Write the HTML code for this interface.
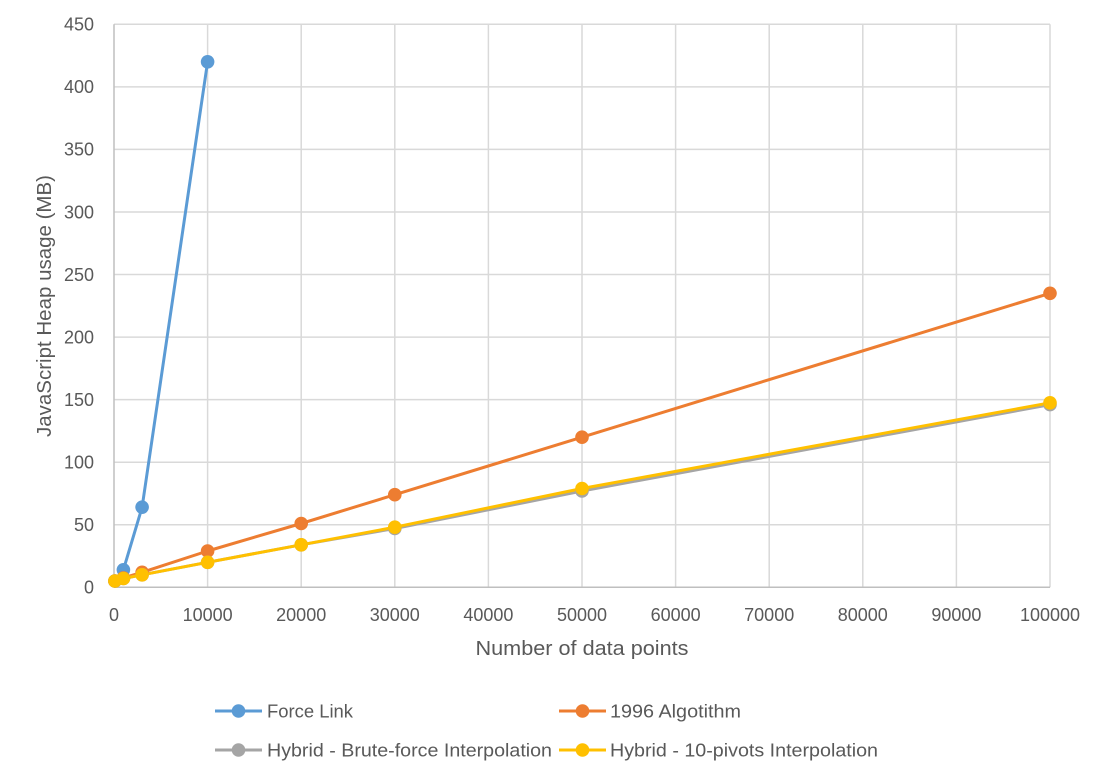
<!DOCTYPE html>
<html>
<head>
<meta charset="utf-8">
<style>
html,body{margin:0;padding:0;background:#fff;}
svg{display:block;}
text{font-family:"Liberation Sans",sans-serif;fill:#595959;}
</style>
</head>
<body>
<svg width="1107" height="780" viewBox="0 0 1107 780" xmlns="http://www.w3.org/2000/svg">
<rect width="1107" height="780" fill="#fff"/>
<!-- gridlines -->
<g stroke="#d9d9d9" stroke-width="1.5">
<line x1="114" y1="524.7" x2="1050" y2="524.7"/>
<line x1="114" y1="462.2" x2="1050" y2="462.2"/>
<line x1="114" y1="399.6" x2="1050" y2="399.6"/>
<line x1="114" y1="337.1" x2="1050" y2="337.1"/>
<line x1="114" y1="274.5" x2="1050" y2="274.5"/>
<line x1="114" y1="212.0" x2="1050" y2="212.0"/>
<line x1="114" y1="149.4" x2="1050" y2="149.4"/>
<line x1="114" y1="86.9" x2="1050" y2="86.9"/>
<line x1="114" y1="24.3" x2="1050" y2="24.3"/>
<line x1="207.6" y1="24.3" x2="207.6" y2="587.3"/>
<line x1="301.2" y1="24.3" x2="301.2" y2="587.3"/>
<line x1="394.8" y1="24.3" x2="394.8" y2="587.3"/>
<line x1="488.4" y1="24.3" x2="488.4" y2="587.3"/>
<line x1="582" y1="24.3" x2="582" y2="587.3"/>
<line x1="675.6" y1="24.3" x2="675.6" y2="587.3"/>
<line x1="769.2" y1="24.3" x2="769.2" y2="587.3"/>
<line x1="862.8" y1="24.3" x2="862.8" y2="587.3"/>
<line x1="956.4" y1="24.3" x2="956.4" y2="587.3"/>
<line x1="1050" y1="24.3" x2="1050" y2="587.3"/>
</g>
<g stroke="#bfbfbf" stroke-width="1.5">
<line x1="114" y1="24.3" x2="114" y2="587.3"/>
<line x1="114" y1="587.3" x2="1050" y2="587.3"/>
</g>
<!-- y tick labels -->
<g font-size="18" text-anchor="end">
<text x="94" y="593.5">0</text>
<text x="94" y="531">50</text>
<text x="94" y="468.5">100</text>
<text x="94" y="406">150</text>
<text x="94" y="343.5">200</text>
<text x="94" y="281">250</text>
<text x="94" y="218.5">300</text>
<text x="94" y="155.5">350</text>
<text x="94" y="93">400</text>
<text x="94" y="30.5">450</text>
</g>
<!-- x tick labels -->
<g font-size="18" text-anchor="middle">
<text x="114" y="621">0</text>
<text x="207.6" y="621">10000</text>
<text x="301.2" y="621">20000</text>
<text x="394.8" y="621">30000</text>
<text x="488.4" y="621">40000</text>
<text x="582" y="621">50000</text>
<text x="675.6" y="621">60000</text>
<text x="769.2" y="621">70000</text>
<text x="862.8" y="621">80000</text>
<text x="956.4" y="621">90000</text>
<text x="1050" y="621">100000</text>
</g>
<!-- axis titles -->
<text x="582" y="655" font-size="20" text-anchor="middle" textLength="213" lengthAdjust="spacingAndGlyphs">Number of data points</text>
<text transform="translate(51,306) rotate(-90)" font-size="20" text-anchor="middle" textLength="262" lengthAdjust="spacingAndGlyphs">JavaScript Heap usage (MB)</text>

<!-- series -->
<g fill="none" stroke-width="3" stroke-linejoin="round">
<polyline stroke="#5b9bd5" points="114.9,581.0 123.4,569.8 142.1,507.2 207.6,61.8"/>
<polyline stroke="#ed7d31" points="114.9,581.0 123.4,577.9 142.1,572.3 207.6,551.0 301.2,523.5 394.8,494.7 582,437.2 1050,293.3"/>
<polyline stroke="#a5a5a5" points="114.9,581.0 123.4,578.5 142.1,574.8 207.6,562.3 301.2,544.8 394.8,528.5 582,491.0 1050,404.6"/>
<polyline stroke="#ffc000" points="114.9,581.0 123.4,578.5 142.1,574.8 207.6,562.3 301.2,544.8 394.8,527.2 582,488.5 1050,402.8"/>
</g>
<g fill="#5b9bd5">
<circle cx="114.9" cy="581.0" r="6.8"/><circle cx="123.4" cy="569.8" r="6.8"/><circle cx="142.1" cy="507.2" r="6.8"/><circle cx="207.6" cy="61.8" r="6.8"/>
</g>
<g fill="#ed7d31">
<circle cx="114.9" cy="581.0" r="6.8"/><circle cx="123.4" cy="577.9" r="6.8"/><circle cx="142.1" cy="572.3" r="6.8"/><circle cx="207.6" cy="551.0" r="6.8"/><circle cx="301.2" cy="523.5" r="6.8"/><circle cx="394.8" cy="494.7" r="6.8"/><circle cx="582" cy="437.2" r="6.8"/><circle cx="1050" cy="293.3" r="6.8"/>
</g>
<g fill="#a5a5a5">
<circle cx="114.9" cy="581.0" r="6.8"/><circle cx="123.4" cy="578.5" r="6.8"/><circle cx="142.1" cy="574.8" r="6.8"/><circle cx="207.6" cy="562.3" r="6.8"/><circle cx="301.2" cy="544.8" r="6.8"/><circle cx="394.8" cy="528.5" r="6.8"/><circle cx="582" cy="491.0" r="6.8"/><circle cx="1050" cy="404.6" r="6.8"/>
</g>
<g fill="#ffc000">
<circle cx="114.9" cy="581.0" r="6.8"/><circle cx="123.4" cy="578.5" r="6.8"/><circle cx="142.1" cy="574.8" r="6.8"/><circle cx="207.6" cy="562.3" r="6.8"/><circle cx="301.2" cy="544.8" r="6.8"/><circle cx="394.8" cy="527.2" r="6.8"/><circle cx="582" cy="488.5" r="6.8"/><circle cx="1050" cy="402.8" r="6.8"/>
</g>

<!-- legend -->
<g stroke-width="3">
<line x1="215" y1="711" x2="262" y2="711" stroke="#5b9bd5"/>
<line x1="559" y1="711" x2="606" y2="711" stroke="#ed7d31"/>
<line x1="215" y1="750" x2="262" y2="750" stroke="#a5a5a5"/>
<line x1="559" y1="750" x2="606" y2="750" stroke="#ffc000"/>
</g>
<circle cx="238.5" cy="711" r="6.8" fill="#5b9bd5"/>
<circle cx="582.5" cy="711" r="6.8" fill="#ed7d31"/>
<circle cx="238.5" cy="750" r="6.8" fill="#a5a5a5"/>
<circle cx="582.5" cy="750" r="6.8" fill="#ffc000"/>
<g font-size="18">
<text x="267" y="717.5" textLength="86" lengthAdjust="spacingAndGlyphs">Force Link</text>
<text x="610" y="717.5" textLength="131" lengthAdjust="spacingAndGlyphs">1996 Algotithm</text>
<text x="267" y="756.5" textLength="285" lengthAdjust="spacingAndGlyphs">Hybrid - Brute-force Interpolation</text>
<text x="610" y="756.5" textLength="268" lengthAdjust="spacingAndGlyphs">Hybrid - 10-pivots Interpolation</text>
</g>
</svg>
</body>
</html>
